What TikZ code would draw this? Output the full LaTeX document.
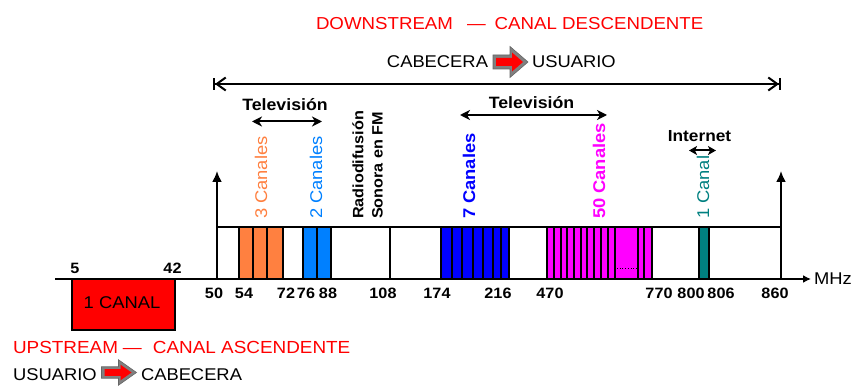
\documentclass[tikz,border=0pt]{standalone}
\usepackage{fontspec}
\setmainfont{Liberation Sans}[FakeStretch=1.08]
\usetikzlibrary{arrows.meta}
\definecolor{cOrange}{RGB}{255,128,64}
\definecolor{cBlueL}{RGB}{0,128,255}
\definecolor{cBlue}{RGB}{0,0,255}
\definecolor{cMag}{RGB}{255,0,255}
\definecolor{cTeal}{RGB}{0,128,128}
\definecolor{cRed}{RGB}{255,0,0}
\definecolor{cGray}{RGB}{128,128,128}
\tikzset{
  txt/.style={inner sep=0pt, font=\fontsize{17}{17}\selectfont},
  txtb/.style={inner sep=0pt, font=\fontsize{16.4}{16.4}\selectfont\bfseries},
  axlbl/.style={inner sep=0pt, font=\fontsize{15}{15}\selectfont\bfseries},
  rotlbl/.style={inner sep=0pt, rotate=90, anchor=west},
  band/.style={draw=black, line width=2pt},
  dblarrow/.style={line width=2pt, {Stealth[length=10pt,width=10pt,inset=3pt]}-{Stealth[length=10pt,width=10pt,inset=3pt]}},
  blockarrow/.pic={
    \fill[cGray, draw=black!60, line width=0.6pt] (0,-7) -- (17,-7) -- (17,-15.5) -- (35,0) -- (17,15.5) -- (17,7) -- (0,7) -- cycle;
    \fill[cRed] (3,-4) -- (19,-4) -- (19,-9.5) -- (30,0) -- (19,9.5) -- (19,4) -- (3,4) -- cycle;
  }
}
\begin{document}
\begin{tikzpicture}[x=1pt,y=-1pt, line width=2pt]
\useasboundingbox (0,0) rectangle (851,387);

% ---------- titles ----------
\node[txt, text=cRed, anchor=west, font=\fontsize{17.3}{17.3}\selectfont] (down) at (315,24) {DOWNSTREAM\hspace{14pt}—\hspace{9pt}CANAL DESCENDENTE};
\node[txt, anchor=east] (cab1) at (489,62) {CABECERA};
\pic (arr1) at (493,62) {blockarrow};
\node[txt, anchor=west] (usu1) at (531,62) {USUARIO};

\coordinate (dl) at (213,84);
\coordinate (dr) at (781,84);
\draw[line width=2pt, {Bar[width=12pt,sep=0pt]Straight Barb[length=9pt,width=13pt,sep=0pt]}-{Straight Barb[length=9pt,width=13pt,sep=0pt]Bar[width=12pt,sep=0pt]}] (dl) -- (dr);

% ---------- frame ----------
\coordinate (ax0) at (55,279);
\coordinate (ax1) at (811,279);
\coordinate (b50) at (217,279);
\coordinate (t50) at (217,171);
\coordinate (b860) at (781,279);
\coordinate (t860) at (781,171);

% bands
\foreach \a/\b in {239/253,253/267,267/283}
  \draw[band, fill=cOrange] (\a,227) rectangle (\b,279);
\foreach \a/\b in {303/317,317/331}
  \draw[band, fill=cBlueL] (\a,227) rectangle (\b,279);
\foreach \a/\b in {441/452,452/462,462/473,473/483,483/493,493/501,501/509}
  \draw[band, fill=cBlue] (\a,227) rectangle (\b,279);
\foreach \a/\b in {547/554,554/561,561/567,567/574,574/581,581/587,587/594,594/601,601/608,608/615,615/638,638/644,644/652}
  \draw[band, fill=cMag] (\a,227) rectangle (\b,279);
\draw[black, line width=0.7pt, dotted] (617,268) -- (637,268);
\draw[band, fill=cTeal] (699,227) rectangle (709,279);

\draw (217,227) -- (781,227);
\draw (390,227) -- (390,279);

\draw[-{Latex[length=11pt,width=10pt]}] (b50) -- (t50);
\draw[-{Latex[length=11pt,width=10pt]}] (b860) -- (t860);

% upstream block
\draw[fill=cRed, line width=1.8pt] (72,279) rectangle (175,330);
\node[txt] (canal1) at (122,303) {1 CANAL};

\draw[-{Latex[length=8pt,width=8pt]}] (ax0) -- (ax1);
\node[txt, anchor=west] (mhz) at (813,279) {MHz};

% ---------- axis labels ----------
\node[axlbl] (l5) at (75,268) {5};
\node[axlbl] (l42) at (172.5,268) {42};
\foreach \x/\t in {214/50,244/54,286/72,306/76,328/88,383/108,437/174,498/216,550/470,659/770,691/800,721/806,775/860}
  \node[axlbl] (lab\t) at (\x,293) {\t};

% ---------- upper labels ----------
\node[txtb] (tv1) at (285,105) {Televisión};
\coordinate (tv1l) at (252,121.5);
\coordinate (tv1r) at (322,121.5);
\draw[dblarrow] (tv1l) -- (tv1r);

\node[txtb] (tv2) at (531.5,103) {Televisión};
\coordinate (tv2l) at (460,115);
\coordinate (tv2r) at (607,115);
\draw[dblarrow] (tv2l) -- (tv2r);

\node[txtb, font=\fontsize{16}{16}\selectfont\bfseries] (inet) at (699.5,136) {Internet};
\coordinate (inl) at (689,150.5);
\coordinate (inr) at (716,150.5);
\draw[line width=2pt, {Stealth[length=8pt,width=9pt,inset=2pt]}-{Stealth[length=8pt,width=9pt,inset=2pt]}] (inl) -- (inr);

\node[txt, rotlbl, text=cOrange] (c3) at (261,220) {3 Canales};
\node[txt, rotlbl, text=cBlueL] (c2) at (316,220) {2 Canales};
\node[txt, rotlbl, font=\fontsize{15}{15}\selectfont\bfseries] (radio) at (358,220) {Radiodifusión};
\node[txt, rotlbl, font=\fontsize{15}{15}\selectfont\bfseries] (sonora) at (377.5,220) {Sonora en FM};
\node[txt, rotlbl, text=cBlue, font=\fontsize{17}{17}\selectfont\bfseries] (c7) at (469,220) {7 Canales};
\node[txt, rotlbl, text=cMag, font=\fontsize{17}{17}\selectfont\bfseries] (c50) at (599,220) {50 Canales};
\node[txt, rotlbl, text=cTeal] (c1) at (703,220) {1 Canal};

% ---------- bottom ----------
\node[txt, text=cRed, anchor=west, font=\fontsize{17.5}{17.5}\selectfont] (up) at (12,347) {UPSTREAM\hspace{5pt}—\hspace{11pt}CANAL ASCENDENTE};
\node[txt, anchor=west] (usu2) at (12,375) {USUARIO};
\pic[yscale=0.82] (arr2) at (101.5,372.5) {blockarrow};
\node[txt, anchor=west] (cab2) at (140,375) {CABECERA};
\end{tikzpicture}
\end{document}
